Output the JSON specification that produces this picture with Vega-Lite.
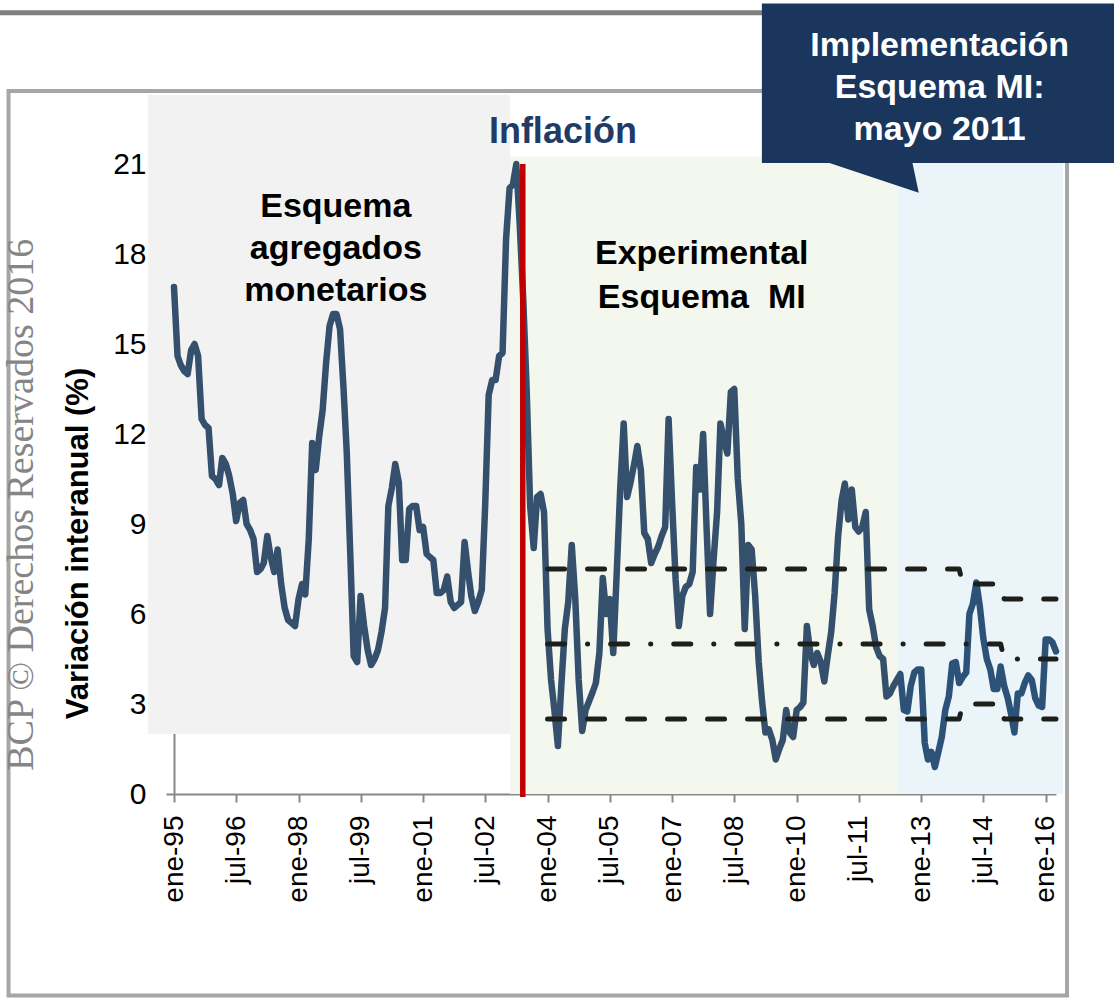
{
  "$schema": "https://vega.github.io/schema/vega-lite/v6.json",
  "width": 882,
  "height": 630,
  "autosize": {"type": "none"},
  "padding": {"left": 174, "top": 164, "right": 58, "bottom": 205},
  "background": "white",
  "config": {"view": {"stroke": null}, "font": "Liberation Sans", "axis": {"grid": false}},
  "datasets": {
    "zonas": [
      {"z": "gris", "d": "1994-05-16", "d2": "2003-02-05", "v": 2, "v2": 23.3},
      {"z": "verde", "d": "2003-02-05", "d2": "2012-06-10", "v": 0, "v2": 21.25},
      {"z": "azul", "d": "2012-06-10", "d2": "2016-06-03", "v": 0, "v2": 21.25}
    ],
    "marco": [{"d": "1991-01-06", "d2": "2016-07-07", "v": 23.43, "v2": -6.72}],
    "barra": [{"d": "1990-06-01", "d2": "2010-01-01", "v": 26.04}],
    "serie": [
      {"d":"1995-01-01","v":16.9},{"d":"1995-02-01","v":14.6},{"d":"1995-03-01","v":14.3},{"d":"1995-04-01","v":14.1},{"d":"1995-05-01","v":14.0},{"d":"1995-06-01","v":14.8},{"d":"1995-07-01","v":15.0},{"d":"1995-08-01","v":14.6},{"d":"1995-09-01","v":12.5},{"d":"1995-10-01","v":12.3},{"d":"1995-11-01","v":12.2},{"d":"1995-12-01","v":10.6},
      {"d":"1996-01-01","v":10.5},{"d":"1996-02-01","v":10.3},{"d":"1996-03-01","v":11.2},{"d":"1996-04-01","v":11.0},{"d":"1996-05-01","v":10.6},{"d":"1996-06-01","v":10.0},{"d":"1996-07-01","v":9.1},{"d":"1996-08-01","v":9.7},{"d":"1996-09-01","v":9.8},{"d":"1996-10-01","v":9.0},{"d":"1996-11-01","v":8.8},{"d":"1996-12-01","v":8.5},
      {"d":"1997-01-01","v":7.4},{"d":"1997-02-01","v":7.5},{"d":"1997-03-01","v":7.7},{"d":"1997-04-01","v":8.6},{"d":"1997-05-01","v":7.9},{"d":"1997-06-01","v":7.4},{"d":"1997-07-01","v":8.15},{"d":"1997-08-01","v":7.0},{"d":"1997-09-01","v":6.2},{"d":"1997-10-01","v":5.8},{"d":"1997-11-01","v":5.7},{"d":"1997-12-01","v":5.6},
      {"d":"1998-01-01","v":6.5},{"d":"1998-02-01","v":7.0},{"d":"1998-03-01","v":6.65},{"d":"1998-04-01","v":8.5},{"d":"1998-05-01","v":11.7},{"d":"1998-06-01","v":10.8},{"d":"1998-07-01","v":11.9},{"d":"1998-08-01","v":12.8},{"d":"1998-09-01","v":14.4},{"d":"1998-10-01","v":15.6},{"d":"1998-11-01","v":16.0},{"d":"1998-12-01","v":16.0},
      {"d":"1999-01-01","v":15.5},{"d":"1999-02-01","v":13.5},{"d":"1999-03-01","v":11.4},{"d":"1999-04-01","v":8.0},{"d":"1999-05-01","v":4.6},{"d":"1999-06-01","v":4.4},{"d":"1999-07-01","v":6.6},{"d":"1999-08-01","v":5.6},{"d":"1999-09-01","v":4.8},{"d":"1999-10-01","v":4.3},{"d":"1999-11-01","v":4.5},{"d":"1999-12-01","v":4.8},
      {"d":"2000-01-01","v":5.4},{"d":"2000-02-01","v":6.2},{"d":"2000-03-01","v":9.6},{"d":"2000-04-01","v":10.2},{"d":"2000-05-01","v":11.0},{"d":"2000-06-01","v":10.4},{"d":"2000-07-01","v":7.8},{"d":"2000-08-01","v":7.8},{"d":"2000-09-01","v":9.5},{"d":"2000-10-01","v":9.6},{"d":"2000-11-01","v":9.6},{"d":"2000-12-01","v":8.8},
      {"d":"2001-01-01","v":8.9},{"d":"2001-02-01","v":8.0},{"d":"2001-03-01","v":7.9},{"d":"2001-04-01","v":7.8},{"d":"2001-05-01","v":6.7},{"d":"2001-06-01","v":6.7},{"d":"2001-07-01","v":6.8},{"d":"2001-08-01","v":7.25},{"d":"2001-09-01","v":6.4},{"d":"2001-10-01","v":6.2},{"d":"2001-11-01","v":6.3},{"d":"2001-12-01","v":6.4},
      {"d":"2002-01-01","v":8.4},{"d":"2002-02-01","v":7.4},{"d":"2002-03-01","v":6.6},{"d":"2002-04-01","v":6.1},{"d":"2002-05-01","v":6.4},{"d":"2002-06-01","v":6.8},{"d":"2002-07-01","v":9.6},{"d":"2002-08-01","v":13.3},{"d":"2002-09-01","v":13.8},{"d":"2002-10-01","v":13.8},{"d":"2002-11-01","v":14.6},{"d":"2002-12-01","v":14.7},
      {"d":"2003-01-01","v":18.5},{"d":"2003-02-01","v":20.2},{"d":"2003-03-01","v":20.3},{"d":"2003-04-01","v":21.0},{"d":"2003-05-01","v":19.0},{"d":"2003-06-01","v":16.5},{"d":"2003-07-01","v":13.5},{"d":"2003-08-01","v":9.6},{"d":"2003-09-01","v":8.2},{"d":"2003-10-01","v":9.9},{"d":"2003-11-01","v":10.0},{"d":"2003-12-01","v":9.4},
      {"d":"2004-01-01","v":5.5},{"d":"2004-02-01","v":3.8},{"d":"2004-03-01","v":2.8},{"d":"2004-04-01","v":1.6},{"d":"2004-05-01","v":3.6},{"d":"2004-06-01","v":5.5},{"d":"2004-07-01","v":6.4},{"d":"2004-08-01","v":8.3},{"d":"2004-09-01","v":6.5},{"d":"2004-10-01","v":3.8},{"d":"2004-11-01","v":2.1},{"d":"2004-12-01","v":2.8},
      {"d":"2005-01-01","v":3.1},{"d":"2005-02-01","v":3.4},{"d":"2005-03-01","v":3.7},{"d":"2005-04-01","v":4.7},{"d":"2005-05-01","v":7.2},{"d":"2005-06-01","v":6.0},{"d":"2005-07-01","v":6.5},{"d":"2005-08-01","v":4.7},{"d":"2005-09-01","v":7.4},{"d":"2005-10-01","v":10.15},{"d":"2005-11-01","v":12.35},{"d":"2005-12-01","v":9.9},
      {"d":"2006-01-01","v":10.4},{"d":"2006-02-01","v":11.0},{"d":"2006-03-01","v":11.6},{"d":"2006-04-01","v":10.8},{"d":"2006-05-01","v":8.7},{"d":"2006-06-01","v":8.5},{"d":"2006-07-01","v":7.7},{"d":"2006-08-01","v":8.0},{"d":"2006-09-01","v":8.25},{"d":"2006-10-01","v":8.6},{"d":"2006-11-01","v":8.9},{"d":"2006-12-01","v":12.5},
      {"d":"2007-01-01","v":9.7},{"d":"2007-02-01","v":7.15},{"d":"2007-03-01","v":5.6},{"d":"2007-04-01","v":6.6},{"d":"2007-05-01","v":6.9},{"d":"2007-06-01","v":7.0},{"d":"2007-07-01","v":7.4},{"d":"2007-08-01","v":10.9},{"d":"2007-09-01","v":10.15},{"d":"2007-10-01","v":12.0},{"d":"2007-11-01","v":8.8},{"d":"2007-12-01","v":6.0},
      {"d":"2008-01-01","v":7.8},{"d":"2008-02-01","v":9.4},{"d":"2008-03-01","v":12.35},{"d":"2008-04-01","v":11.8},{"d":"2008-05-01","v":11.35},{"d":"2008-06-01","v":13.4},{"d":"2008-07-01","v":13.5},{"d":"2008-08-01","v":10.5},{"d":"2008-09-01","v":9.0},{"d":"2008-10-01","v":5.5},{"d":"2008-11-01","v":8.3},{"d":"2008-12-01","v":8.15},
      {"d":"2009-01-01","v":6.6},{"d":"2009-02-01","v":4.4},{"d":"2009-03-01","v":3.15},{"d":"2009-04-01","v":2.05},{"d":"2009-05-01","v":2.15},{"d":"2009-06-01","v":1.8},{"d":"2009-07-01","v":1.15},{"d":"2009-08-01","v":1.5},{"d":"2009-09-01","v":1.8},{"d":"2009-10-01","v":2.8},{"d":"2009-11-01","v":2.05},{"d":"2009-12-01","v":1.9},
      {"d":"2010-01-01","v":2.8},{"d":"2010-02-01","v":2.9},{"d":"2010-03-01","v":3.05},{"d":"2010-04-01","v":5.6},{"d":"2010-05-01","v":4.7},{"d":"2010-06-01","v":4.3},{"d":"2010-07-01","v":4.7},{"d":"2010-08-01","v":4.4},{"d":"2010-09-01","v":3.75},{"d":"2010-10-01","v":4.6},{"d":"2010-11-01","v":5.4},{"d":"2010-12-01","v":6.7},
      {"d":"2011-01-01","v":8.6},{"d":"2011-02-01","v":9.8},{"d":"2011-03-01","v":10.35},{"d":"2011-04-01","v":9.15},{"d":"2011-05-01","v":10.15},{"d":"2011-06-01","v":8.9},{"d":"2011-07-01","v":8.75},{"d":"2011-08-01","v":8.9},{"d":"2011-09-01","v":9.4},{"d":"2011-10-01","v":6.15},{"d":"2011-11-01","v":5.6},{"d":"2011-12-01","v":4.9},
      {"d":"2012-01-01","v":4.6},{"d":"2012-02-01","v":4.5},{"d":"2012-03-01","v":3.25},{"d":"2012-04-01","v":3.35},{"d":"2012-05-01","v":3.6},{"d":"2012-06-01","v":3.8},{"d":"2012-07-01","v":4.0},{"d":"2012-08-01","v":2.8},{"d":"2012-09-01","v":2.75},{"d":"2012-10-01","v":3.6},{"d":"2012-11-01","v":4.05},{"d":"2012-12-01","v":4.15},
      {"d":"2013-01-01","v":4.15},{"d":"2013-02-01","v":1.7},{"d":"2013-03-01","v":1.15},{"d":"2013-04-01","v":1.4},{"d":"2013-05-01","v":0.9},{"d":"2013-06-01","v":1.4},{"d":"2013-07-01","v":1.9},{"d":"2013-08-01","v":2.8},{"d":"2013-09-01","v":3.25},{"d":"2013-10-01","v":4.35},{"d":"2013-11-01","v":4.4},{"d":"2013-12-01","v":3.7},
      {"d":"2014-01-01","v":3.9},{"d":"2014-02-01","v":4.05},{"d":"2014-03-01","v":6.0},{"d":"2014-04-01","v":6.35},{"d":"2014-05-01","v":7.05},{"d":"2014-06-01","v":6.25},{"d":"2014-07-01","v":5.2},{"d":"2014-08-01","v":4.5},{"d":"2014-09-01","v":4.15},{"d":"2014-10-01","v":3.5},{"d":"2014-11-01","v":3.5},{"d":"2014-12-01","v":4.25},
      {"d":"2015-01-01","v":3.6},{"d":"2015-02-01","v":3.2},{"d":"2015-03-01","v":2.7},{"d":"2015-04-01","v":2.05},{"d":"2015-05-01","v":3.35},{"d":"2015-06-01","v":3.35},{"d":"2015-07-01","v":3.7},{"d":"2015-08-01","v":3.95},{"d":"2015-09-01","v":3.8},{"d":"2015-10-01","v":3.2},{"d":"2015-11-01","v":2.95},{"d":"2015-12-01","v":2.9},
      {"d":"2016-01-01","v":5.15},{"d":"2016-02-01","v":5.15},{"d":"2016-03-01","v":5.05},{"d":"2016-04-01","v":4.75}
    ],
    "banda": [
      {"s":"sup","d":"2004-01-01","v":7.5},{"s":"sup","d":"2013-12-01","v":7.5},{"s":"sup","d":"2014-01-01","v":7.0},{"s":"sup","d":"2014-12-01","v":7.0},{"s":"sup","d":"2015-01-01","v":6.5},{"s":"sup","d":"2016-04-01","v":6.5},
      {"s":"inf","d":"2004-01-01","v":2.5},{"s":"inf","d":"2013-12-01","v":2.5},{"s":"inf","d":"2014-01-01","v":3.0},{"s":"inf","d":"2014-12-01","v":3.0},{"s":"inf","d":"2015-01-01","v":2.5},{"s":"inf","d":"2016-04-01","v":2.5}
    ],
    "centro": [
      {"d":"2004-01-01","v":5.0},{"d":"2014-12-01","v":5.0},{"d":"2015-01-01","v":4.5},{"d":"2016-04-01","v":4.5}
    ],
    "roja": [{"d":"2003-05-28","v":21.0,"v2":-0.1}],
    "caja": [{"d":"2009-03-01","d2":"2018-06-01","v":21.03,"v2":26.35}],
    "punta": [{"d":"2011-09-01","v":20.54}],
    "cajaTexto": [{"d":"2013-06-12","v":24.95,"t":"Implementación\nEsquema MI:\nmayo 2011"}],
    "titulo": [{"d":"2004-05-15","v":22.08,"t":"Inflación"}],
    "etiq1": [{"d":"1998-11-25","v":19.57,"t":"Esquema\nagregados\nmonetarios"}],
    "etiq2": [{"d":"2007-09-19","v":18.0,"t":"Experimental\nEsquema\u00a0 MI"}],
    "marca": [{"d":"1991-05-05","v":9.64,"t":"BCP © Derechos Reservados 2016"}]
  },
  "encoding": {
    "x": {
      "field": "d", "type": "temporal",
      "scale": {"type": "utc", "domain": [{"year": 1995, "month": 1, "date": 1, "utc": true}, {"year": 2016, "month": 4, "date": 1, "utc": true}]},
      "axis": {
        "title": null,
        "values": [
          {"year": 1995, "month": 1, "date": 1, "utc": true},
          {"year": 1996, "month": 7, "date": 1, "utc": true},
          {"year": 1998, "month": 1, "date": 1, "utc": true},
          {"year": 1999, "month": 7, "date": 1, "utc": true},
          {"year": 2001, "month": 1, "date": 1, "utc": true},
          {"year": 2002, "month": 7, "date": 1, "utc": true},
          {"year": 2004, "month": 1, "date": 1, "utc": true},
          {"year": 2005, "month": 7, "date": 1, "utc": true},
          {"year": 2007, "month": 1, "date": 1, "utc": true},
          {"year": 2008, "month": 7, "date": 1, "utc": true},
          {"year": 2010, "month": 1, "date": 1, "utc": true},
          {"year": 2011, "month": 7, "date": 1, "utc": true},
          {"year": 2013, "month": 1, "date": 1, "utc": true},
          {"year": 2014, "month": 7, "date": 1, "utc": true},
          {"year": 2016, "month": 1, "date": 1, "utc": true}
        ],
        "labelExpr": "(utcmonth(datum.value)==0?'ene':'jul')+'-'+utcFormat(datum.value,'%y')",
        "labelAngle": 270,
        "labelAlign": "right",
        "labelBaseline": "middle",
        "labelFontSize": 28,
        "labelColor": "#000000",
        "labelPadding": 13,
        "labelOverlap": false,
        "labelBound": false,
        "labelFlush": false,
        "tickSize": 8,
        "tickWidth": 2,
        "tickColor": "#888888",
        "domainColor": "#888888",
        "domainWidth": 2
      }
    },
    "y": {
      "field": "v", "type": "quantitative",
      "scale": {"domain": [0, 21], "nice": false, "zero": false},
      "axis": {
        "values": [0, 3, 6, 9, 12, 15, 18, 21],
        "format": "d",
        "labelFontSize": 30,
        "labelColor": "#000000",
        "labelPadding": 20,
        "tickSize": 8,
        "tickWidth": 2,
        "tickColor": "#888888",
        "domainColor": "#888888",
        "domainWidth": 2,
        "title": "Variación interanual (%)",
        "titleFontSize": 31,
        "titleFontWeight": "bold",
        "titleColor": "#000000",
        "titleAngle": 270,
        "titleAlign": "center",
        "titleBaseline": "alphabetic",
        "titleX": -87,
        "titleY": 379
      }
    }
  },
  "layer": [
    {
      "data": {"name": "zonas"},
      "mark": {"type": "rect"},
      "encoding": {
        "x2": {"field": "d2"},
        "y2": {"field": "v2"},
        "color": {"field": "z", "type": "nominal", "legend": null, "scale": {"domain": ["gris", "verde", "azul"], "range": ["#F2F2F2", "#F4F7EE", "#EBF4F8"]}}
      }
    },
    {
      "data": {"name": "marco"},
      "mark": {"type": "rect", "fillOpacity": 0, "stroke": "#A6A6A6", "strokeWidth": 4},
      "encoding": {"x2": {"field": "d2"}, "y2": {"field": "v2"}}
    },
    {
      "data": {"name": "barra"},
      "mark": {"type": "rule", "color": "#7F7F7F", "strokeWidth": 5},
      "encoding": {"x2": {"field": "d2"}}
    },
    {
      "data": {"name": "serie"},
      "mark": {
        "type": "line",
        "strokeWidth": 6.5,
        "strokeJoin": "round",
        "strokeCap": "round",
        "color": {"gradient": "linear", "x1": 0, "x2": 1, "y1": 0, "y2": 0,
          "stops": [
            {"offset": 0, "color": "#34506D"},
            {"offset": 0.82, "color": "#34506D"},
            {"offset": 0.822, "color": "#2C5278"},
            {"offset": 1, "color": "#2C5278"}
          ]}
      }
    },
    {
      "data": {"name": "banda"},
      "mark": {"type": "line", "color": "#1D1F1A", "strokeWidth": 5, "strokeDash": [17, 23], "strokeCap": "round", "strokeJoin": "round"},
      "encoding": {"detail": {"field": "s", "type": "nominal"}}
    },
    {
      "data": {"name": "centro"},
      "mark": {"type": "line", "color": "#1D1F1A", "strokeWidth": 5, "strokeDash": [17, 23, 0.1, 23], "strokeCap": "round", "strokeJoin": "round"},
      "encoding": {}
    },
    {
      "data": {"name": "roja"},
      "mark": {"type": "rule", "color": "#C00000", "strokeWidth": 5.5},
      "encoding": {"y2": {"field": "v2"}}
    },
    {
      "data": {"name": "caja"},
      "mark": {"type": "rect", "color": "#1A365D"},
      "encoding": {"x2": {"field": "d2"}, "y2": {"field": "v2"}}
    },
    {
      "data": {"name": "punta"},
      "mark": {"type": "point", "shape": "M-0.868,-0.34L0.868,-0.34L1,0.283Z", "size": 11236, "filled": true, "opacity": 1, "color": "#1A365D", "strokeWidth": 0}
    },
    {
      "data": {"name": "cajaTexto"},
      "mark": {"type": "text", "lineBreak": "\n", "fontSize": 34, "fontWeight": "bold", "color": "#FFFFFF", "align": "center", "baseline": "middle", "lineHeight": 42},
      "encoding": {"text": {"field": "t"}}
    },
    {
      "data": {"name": "titulo"},
      "mark": {"type": "text", "fontSize": 36, "fontWeight": "bold", "color": "#1F3B66", "align": "center", "baseline": "middle"},
      "encoding": {"text": {"field": "t"}}
    },
    {
      "data": {"name": "etiq1"},
      "mark": {"type": "text", "lineBreak": "\n", "fontSize": 34, "fontWeight": "bold", "color": "#000000", "align": "center", "baseline": "middle", "lineHeight": 42},
      "encoding": {"text": {"field": "t"}}
    },
    {
      "data": {"name": "etiq2"},
      "mark": {"type": "text", "lineBreak": "\n", "fontSize": 34, "fontWeight": "bold", "color": "#000000", "align": "center", "baseline": "middle", "lineHeight": 44},
      "encoding": {"text": {"field": "t"}}
    },
    {
      "data": {"name": "marca"},
      "mark": {"type": "text", "font": "Liberation Serif", "fontSize": 38, "color": "#858585", "align": "center", "baseline": "middle", "angle": 270},
      "encoding": {"text": {"field": "t"}}
    }
  ]
}
